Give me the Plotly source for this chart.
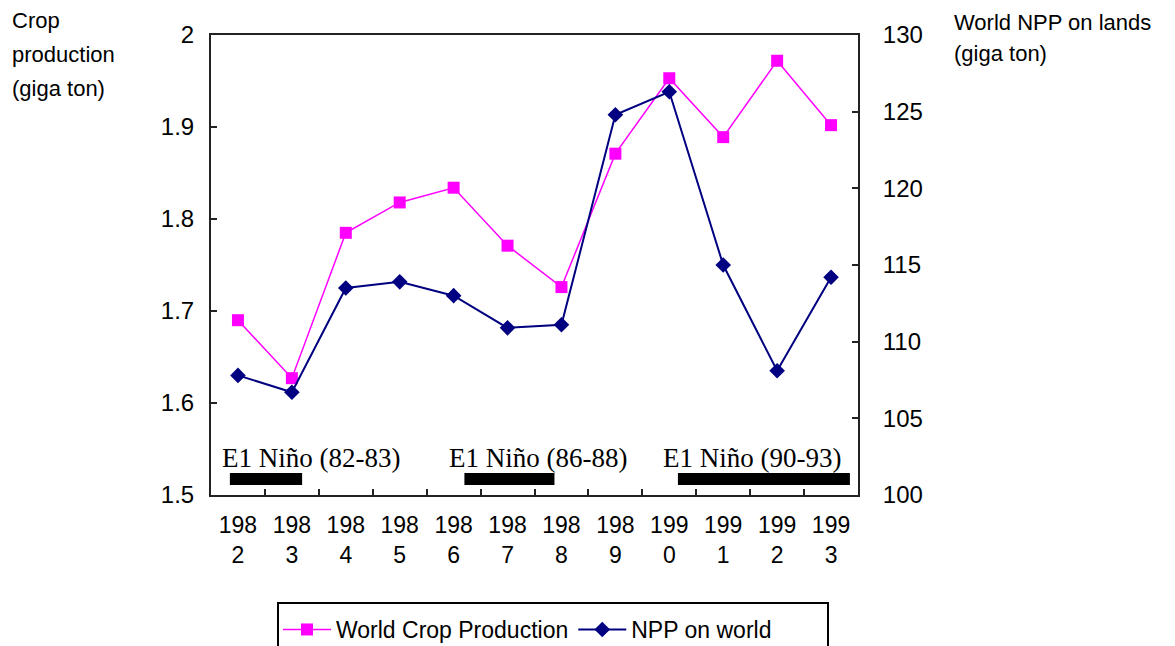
import plotly.graph_objects as go

# Data
years = list(range(1982, 1994))
year_labels = ["198<br>2", "198<br>3", "198<br>4", "198<br>5", "198<br>6", "198<br>7",
               "198<br>8", "198<br>9", "199<br>0", "199<br>1", "199<br>2", "199<br>3"]
crop_production = [1.690, 1.627, 1.785, 1.818, 1.834, 1.771, 1.726, 1.871, 1.953, 1.889, 1.972, 1.902]
npp_world = [107.8, 106.7, 113.5, 113.9, 113.0, 110.9, 111.1, 124.8, 126.3, 115.0, 108.1, 114.2]
left_ticks = [1.5, 1.6, 1.7, 1.8, 1.9, 2.0]
left_tick_text = ["1.5", "1.6", "1.7", "1.8", "1.9", "2"]
right_ticks = [100, 105, 110, 115, 120, 125, 130]
elnino_labels = ["E1 Niño (82-83)", "E1 Niño (86-88)", "E1 Niño (90-93)"]
elnino_spans = [(1981.85, 1983.19), (1986.2, 1987.87), (1990.16, 1993.35)]
elnino_label_x = [1981.67, 1985.88, 1989.85]
left_title_lines = ["Crop", "production", "(giga ton)"]
right_title_lines = ["World NPP on lands", "(giga ton)"]

W, H = 1175, 646
PLOT_L, PLOT_R, PLOT_T, PLOT_B = 211, 858, 35, 495
font_sans = "Liberation Sans, Arial, sans-serif"
font_serif = "Liberation Serif, Times New Roman, serif"


def px_to_paper_x(px):
    return (px - PLOT_L) / (PLOT_R - PLOT_L)


def px_to_paper_y(py):
    return (PLOT_B - py) / (PLOT_B - PLOT_T)


fig = go.Figure()
fig.add_trace(go.Scatter(
    x=years, y=crop_production, name="World Crop Production",
    mode="lines+markers", line=dict(color="#FF00FF", width=1.5),
    marker=dict(symbol="square", size=12, color="#FF00FF"), yaxis="y"))
fig.add_trace(go.Scatter(
    x=years, y=npp_world, name="NPP on world",
    mode="lines+markers", line=dict(color="#000080", width=2),
    marker=dict(symbol="diamond", size=12, color="#000080"), yaxis="y2"))

# El Niño period bars along the bottom of the plot area
shapes = []
for x0, x1 in elnino_spans:
    shapes.append(dict(type="rect", xref="x", yref="paper", x0=x0, x1=x1,
                       y0=0.022, y1=0.048, fillcolor="black", line=dict(width=0)))

# Frame around the legend
shapes.append(dict(type="rect", xref="paper", yref="paper",
                   x0=px_to_paper_x(278), x1=px_to_paper_x(828),
                   y0=px_to_paper_y(665), y1=px_to_paper_y(603),
                   line=dict(color="black", width=2), fillcolor="rgba(0,0,0,0)"))

annotations = []
for label, lx in zip(elnino_labels, elnino_label_x):
    annotations.append(dict(text=label, x=lx, xref="x", y=0.08, yref="paper",
                            xanchor="left", yanchor="middle", showarrow=False,
                            font=dict(family=font_serif, size=27, color="black")))

# Axis titles, one annotation per line for wider line spacing
for i, line in enumerate(left_title_lines):
    annotations.append(dict(text=line, x=px_to_paper_x(10), xref="paper", xanchor="left",
                            y=px_to_paper_y(21 + 33.5 * i), yref="paper", yanchor="middle",
                            showarrow=False, font=dict(family=font_sans, size=22, color="black")))
for i, line in enumerate(right_title_lines):
    annotations.append(dict(text=line, x=px_to_paper_x(952), xref="paper", xanchor="left",
                            y=px_to_paper_y(22 + 31 * i), yref="paper", yanchor="middle",
                            showarrow=False, font=dict(family=font_sans, size=22, color="black")))

fig.update_layout(
    width=W, height=H,
    margin=dict(l=PLOT_L, r=W - PLOT_R, t=PLOT_T, b=H - PLOT_B, autoexpand=False),
    paper_bgcolor="white", plot_bgcolor="white",
    showlegend=True,
    legend=dict(orientation="h", xref="container", yref="container",
                x=278 / W, y=1 - 608 / H, xanchor="left", yanchor="top",
                borderwidth=0, bgcolor="rgba(0,0,0,0)",
                font=dict(family=font_sans, size=23, color="black"),
                itemwidth=48, traceorder="normal"),
    xaxis=dict(range=[1981.5, 1993.5], tickmode="array", tickvals=years, ticktext=year_labels,
               ticks="", showgrid=False, zeroline=False, automargin=False,
               showline=True, linecolor="#222", linewidth=2, mirror=True,
               ticklabelstandoff=8,
               tickfont=dict(family=font_sans, size=23, color="black"),
               minor=dict(tickmode="array", tickvals=[y + 0.5 for y in years[:-1]],
                          ticks="inside", ticklen=6, tickwidth=2, tickcolor="#222")),
    yaxis=dict(range=[1.5, 2.0], tickmode="array", tickvals=left_ticks, ticktext=left_tick_text,
               ticks="inside", ticklen=6, tickwidth=2, tickcolor="#222", automargin=False,
               showgrid=False, zeroline=False, showline=True, linecolor="#222", linewidth=2,
               ticklabelstandoff=10,
               tickfont=dict(family=font_sans, size=24, color="black")),
    yaxis2=dict(range=[100, 130], tickmode="array", tickvals=right_ticks,
                overlaying="y", side="right", automargin=False,
                ticks="inside", ticklen=6, tickwidth=2, tickcolor="#222",
                showgrid=False, zeroline=False, showline=True, linecolor="#222", linewidth=2,
                ticklabelstandoff=18,
                tickfont=dict(family=font_sans, size=24, color="black")),
    shapes=shapes,
    annotations=annotations,
)

fig.write_html("out.html")
